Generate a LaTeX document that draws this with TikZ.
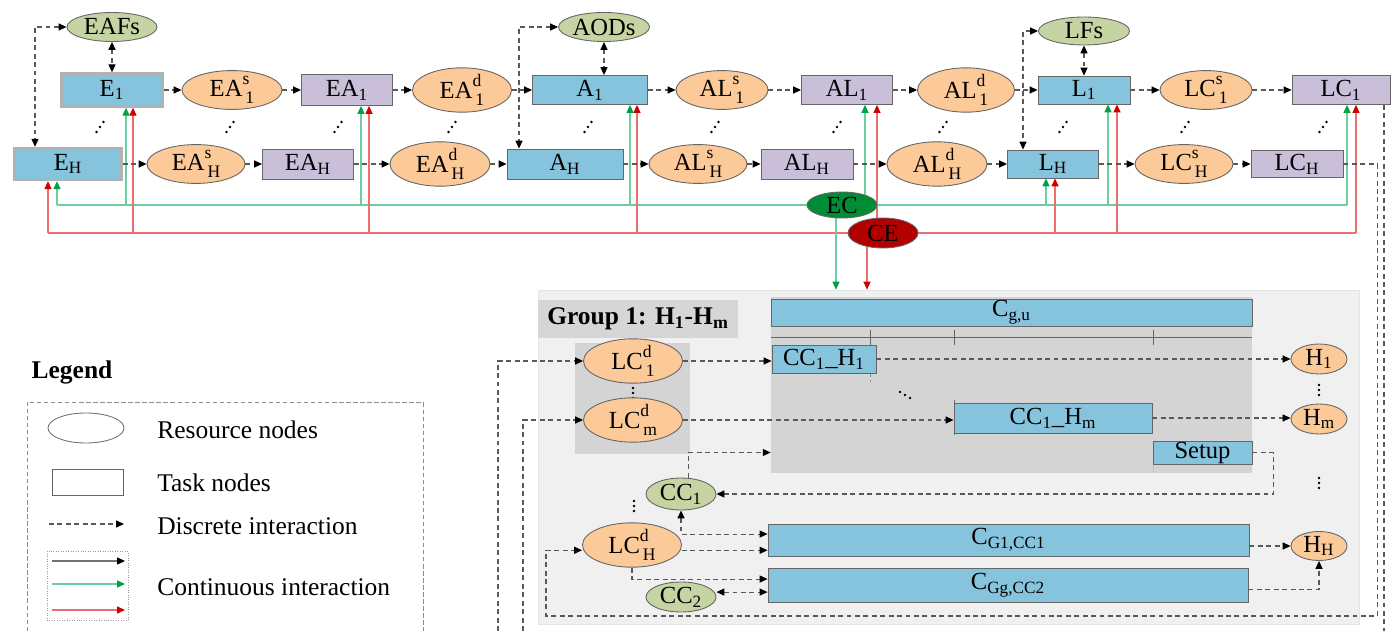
\documentclass[tikz,border=0pt]{standalone}
\usepackage{fontspec}
\setmainfont{Liberation Serif}
\usetikzlibrary{positioning,arrows.meta,shapes.geometric,backgrounds}

\definecolor{taskblue}{RGB}{134,195,221}
\definecolor{taskpurple}{RGB}{201,191,216}
\definecolor{resorange}{RGB}{252,201,152}
\definecolor{resolive}{RGB}{197,212,162}
\definecolor{ecgreen}{RGB}{0,140,52}
\definecolor{cered}{RGB}{178,0,0}
\definecolor{contgreen}{RGB}{110,205,160}
\definecolor{tipgreen}{RGB}{0,160,70}
\definecolor{contred}{RGB}{236,110,110}
\definecolor{tipred}{RGB}{205,0,0}
\definecolor{grpgray}{RGB}{240,240,240}
\definecolor{lblgray}{RGB}{214,214,214}
\definecolor{stackgray}{RGB}{212,212,212}

\newcommand{\supsub}[2]{\rlap{\raisebox{0.5em}{\fontsize{10}{10}\selectfont #1}}\hspace{0.12em}\raisebox{-0.28em}{\fontsize{10}{10}\selectfont #2}}

\tikzset{wh/.style 2 args={minimum width=#1*0.02cm, minimum height=#2*0.02cm}}
\tikzset{tasknode/.style={rectangle, draw=black!60, line width=0.5pt, inner sep=0pt}}
\tikzset{bluetask/.style={tasknode, fill=taskblue}}
\tikzset{purpletask/.style={tasknode, fill=taskpurple}}
\tikzset{firsttask/.style={bluetask, draw=black!30, line width=1.4pt}}
\tikzset{resnode/.style={ellipse, draw=black!60, line width=0.5pt, inner sep=0pt}}
\tikzset{orangeres/.style={resnode, fill=resorange}}
\tikzset{oliveres/.style={resnode, fill=resolive}}
\tikzset{dline/.style={draw=black!65, line width=0.6pt, dash pattern=on 2.8pt off 2pt}}
\tikzset{darr/.style={dline, ->}}
\tikzset{ddarr/.style={dline, <->}}
\tikzset{karr/.style={draw=black!55, line width=0.6pt, ->}}
\tikzset{gline/.style={draw=contgreen, line width=0.6pt}}
\tikzset{garr/.style={gline, -{Triangle[length=4.5pt,width=4pt,color=tipgreen]}}}
\tikzset{rline/.style={draw=contred, line width=0.6pt}}
\tikzset{rarr/.style={rline, -{Triangle[length=4.5pt,width=4pt,color=tipred]}}}
\tikzset{legframe/.style={draw=black!45, line width=0.5pt, dash pattern=on 2.5pt off 1.5pt}}
\tikzset{legtext/.style={anchor=west, inner sep=0pt, font=\fontsize{14.5}{17}\selectfont}}
\tikzset{updots/.pic={\fill (-3.5,5) circle (0.8pt) (0,0) circle (0.8pt) (3.5,-5) circle (0.8pt);}}
\tikzset{vdots/.pic={\fill (0,-5) circle (0.8pt) (0,0) circle (0.8pt) (0,5) circle (0.8pt);}}
\tikzset{dndots/.pic={\fill (-5,-3) circle (0.8pt) (0,0) circle (0.8pt) (5,3) circle (0.8pt);}}

\begin{document}
\begin{tikzpicture}[x=0.02cm, y=-0.02cm, font=\fontsize{14}{16}\selectfont,
    >={Triangle[length=4.5pt,width=4pt,color=black]}]
  \useasboundingbox (0,0) rectangle (1399,631);

  % upper row, first unit
  \node[firsttask, wh={101}{33}] (E1) at (112,90) {E\textsubscript{1}};
  \node[orangeres, wh={100}{32}] (EAs1) at (232,90) {EA\supsub{s}{1}};
  \node[purpletask, wh={91}{31}] (EA1) at (347,90) {EA\textsubscript{1}};
  \node[orangeres, wh={99}{32}] (EAd1) at (462,90) {EA\supsub{d}{1}};
  \node[bluetask, wh={115}{29}] (A1) at (590,90) {A\textsubscript{1}};
  \node[orangeres, wh={92}{31}] (ALs1) at (722,90) {AL\supsub{s}{1}};
  \node[purpletask, wh={91}{29}] (AL1) at (847,90) {AL\textsubscript{1}};
  \node[orangeres, wh={97}{31}] (ALd1) at (966,90) {AL\supsub{d}{1}};
  \node[bluetask, wh={92}{28}] (L1) at (1084,90) {L\textsubscript{1}};
  \node[orangeres, wh={92}{31}] (LCs1) at (1206,90) {LC\supsub{s}{1}};
  \node[purpletask, wh={98}{29}] (LC1) at (1341,90) {LC\textsubscript{1}};
  % lower row, unit H
  \node[firsttask, wh={107}{32}] (EH) at (68,164) {E\textsubscript{H}};
  \node[orangeres, wh={98}{32}] (EAsH) at (196,164) {EA\supsub{s}{H}};
  \node[purpletask, wh={91}{30}] (EAH) at (308,164) {EA\textsubscript{H}};
  \node[orangeres, wh={100}{32}] (EAdH) at (440,164) {EA\supsub{d}{H}};
  \node[bluetask, wh={116}{30}] (AH) at (565,164) {A\textsubscript{H}};
  \node[orangeres, wh={98}{31}] (ALsH) at (698,164) {AL\supsub{s}{H}};
  \node[purpletask, wh={92}{30}] (ALH) at (807,164) {AL\textsubscript{H}};
  \node[orangeres, wh={100}{31}] (ALdH) at (937,164) {AL\supsub{d}{H}};
  \node[bluetask, wh={91}{28}] (LH) at (1053,164) {L\textsubscript{H}};
  \node[orangeres, wh={98}{31}] (LCsH) at (1184,164) {LC\supsub{s}{H}};
  \node[purpletask, wh={92}{27}] (LCH) at (1297,164) {LC\textsubscript{H}};
  % failure / disruption resources
  \node[oliveres, wh={90}{29}] (EAFs) at (112,27) {EAFs};
  \node[oliveres, wh={91}{29}] (AODs) at (604,27) {AODs};
  \node[oliveres, wh={91}{28}] (LFs) at (1084,31) {LFs};
  %
  \foreach \x in {100,230,338,452,588,715,837,943,1063,1185,1323}
    \pic at (\x,127) {updots};
  %
  \foreach \a/\b in {E1/EAs1,EAs1/EA1,EA1/EAd1,EAd1/A1,A1/ALs1,ALs1/AL1,AL1/ALd1,ALd1/L1,L1/LCs1,LCs1/LC1,
      EH/EAsH,EAsH/EAH,EAH/EAdH,EAdH/AH,AH/ALsH,ALsH/ALH,ALH/ALdH,ALdH/LH,LH/LCsH,LCsH/LCH}
    \draw[darr] (\a) -- (\b);
  \draw[ddarr] (EAFs) -- (E1);
  \draw[ddarr] (AODs) -- (AODs |- A1.north);
  \draw[ddarr] (LFs) -- (L1);
  \draw[ddarr] (EAFs.west) -| (EH.north -| 35,0);
  \draw[ddarr] (AODs.west) -| (AH.north -| 519,0);
  \draw[ddarr] (LFs.west) -| (LH.north -| 1023,0);

  % energy / emission nodes
  \node[resnode, fill=ecgreen, wh={70}{26}] (EC) at (842,205) {EC};
  \node[resnode, fill=cered, wh={70}{30}] (CE) at (883,233) {CE};

  % group 1
  \node[rectangle, fill=grpgray, draw=black!10, inner sep=0pt, wh={821}{334}] (grp) at (948.5,457) {};
  \node[rectangle, fill=lblgray, inner sep=0pt, wh={200}{38}, font=\bfseries\fontsize{14.5}{17}\selectfont] (grplbl) at (638,319) {Group 1: H\textsubscript{1}-H\textsubscript{m}};
  \node[rectangle, fill=stackgray, inner sep=0pt, wh={115}{111}] (lcstack) at (632.5,398.5) {};
  \node[rectangle, fill=stackgray, inner sep=0pt, wh={481}{176}] (gantt) at (1011.5,385) {};
  \draw[black!60] (771,337) -- (1252,337);
  \foreach \x in {870,954,1153}
    \draw[black!60] (\x,330) -- (\x,345);
  \draw[black!45, dash pattern=on 2pt off 2pt] (870,345) -- (870,382);
  \draw[black!60] (954,400) -- (954,435);
  \draw[black!25] (1153,441) -- (1153,473);
  \node[bluetask, wh={481}{27}] (Cgu) at (1011.5,312.5) {C\textsubscript{g,u}};
  \node[bluetask, wh={104}{28}] (CCa) at (824,359) {CC\textsubscript{1}\_H\textsubscript{1}};
  \node[bluetask, wh={198}{30}] (CCm) at (1053,418) {CC\textsubscript{1}\_H\textsubscript{m}};
  \node[bluetask, wh={99}{23}] (setup) at (1202.5,452.5) {Setup};
  \pic at (905,395) {dndots};
  \node[orangeres, wh={99}{35}] (LCd1) at (633,361) {LC\supsub{d}{1}};
  \pic at (633,393) {vdots};
  \node[orangeres, wh={99}{38}] (LCdm) at (633,420) {LC\supsub{d}{m}};
  \node[oliveres, wh={70}{32}] (CC1) at (681,494) {CC\textsubscript{1}};
  \pic at (634,506) {vdots};
  \node[orangeres, wh={99}{37}] (LCdH) at (632,545) {LC\supsub{d}{H}};
  \node[oliveres, wh={70}{30}] (CC2) at (681,597) {CC\textsubscript{2}};
  \node[bluetask, wh={481}{32}] (CG1) at (1008.5,540) {C\textsubscript{G1,CC1}};
  \node[bluetask, wh={480}{34}] (CGg) at (1008,585) {C\textsubscript{Gg,CC2}};
  \node[orangeres, wh={56}{30}] (H1) at (1319,359) {H\textsubscript{1}};
  \pic at (1319,390) {vdots};
  \node[orangeres, wh={56}{30}] (Hm) at (1319,419) {H\textsubscript{m}};
  \pic at (1319,483) {vdots};
  \node[orangeres, wh={56}{29}] (HH) at (1319,546) {H\textsubscript{H}};
  %
  \draw[darr] (LCd1.east) -- (LCd1.east -| CCa.west);
  \draw[darr] (CCa.east) -- (H1.west);
  \draw[darr] (LCdm.east) -- (LCdm.east -| CCm.west);
  \draw[darr] (CCm.east) -- (CCm.east -| Hm.west);
  \draw[darr] (setup.east) -- ++(21,0) |- (CC1.east);
  \draw[darr] ([xshift=4pt]CC1.north) |- (setup.west -| gantt.west);
  \draw[ddarr] (CC1.south) |- ([yshift=3.4pt]CG1.west);
  \draw[darr] ([yshift=-3pt]LCdH.east) -- ([yshift=-3pt]LCdH.east -| CG1.west);
  \draw[darr] (LCdH.south) |- ([yshift=3.4pt]CGg.west);
  \draw[ddarr] ([yshift=2.8pt]CC2.east) -- ([yshift=2.8pt]CC2.east -| CGg.west);
  \draw[darr] (HH.west -| CG1.east) -- (HH.west);
  \draw[darr] ([yshift=-2.8pt]CGg.east) -| (HH.south);
  % loops back from the last unit (cut at the page edge)
  \coordinate (cutR) at (1384,631);
  \coordinate (cutA) at (498,631);
  \coordinate (cutB) at (523,631);
  \draw[dline] (LC1.south -| cutR) -- (cutR);
  \draw[darr] (LCH.east) -- ++(34,0) |- (546,616) |- ([yshift=-3pt]LCdH.west);
  \draw[darr] (cutA) |- (LCd1.west);
  \draw[darr] (cutB) |- (LCdm.west);

  % continuous interactions
  \begin{scope}[on background layer]
    \fill[white] (0,0) rectangle (1399,631);
    \draw[gline] (57,205) -- (1347,205);
    \foreach \x/\n in {57/EH,126/E1,361/EA1,630/A1,865/AL1,1046/LH,1108/L1,1347/LC1}
      \draw[garr] (\x,205) -- (\n.south -| \x,0);
    \draw[rline] (48,233) -- (1356,233);
    \foreach \x/\n in {48/EH,133/E1,369/EA1,637/A1,877/AL1,1055/LH,1117/L1,1356/LC1}
      \draw[rarr] (\x,233) -- (\n.south -| \x,0);
    \draw[garr] (EC.center -| 836,0) -- (grp.north -| 836,0);
    \draw[rarr] (CE.center -| 867,0) -- (grp.north -| 867,0);
  \end{scope}

  % legend
  \node[font=\bfseries\fontsize{14.5}{17}\selectfont, inner sep=0pt] (legtitle) at (72,372) {Legend};
  \draw[legframe] (27,631) -- (27,402) -- (423,402) -- (423,631);
  \node[resnode, draw=black!55, fill=white, wh={76}{30}] (legres) at (86,428) {};
  \node[legtext] (legrestxt) at (157,430) {Resource nodes};
  \node[tasknode, fill=white, wh={71}{26}] (legtask) at (88,482) {};
  \node[legtext] (legtasktxt) at (157,483) {Task nodes};
  \coordinate (legda) at (49,524);
  \coordinate (legdb) at (124,524);
  \draw[darr] (legda) -- (legdb);
  \node[legtext] (legdtxt) at (157,526) {Discrete interaction};
  \node[rectangle, draw=black!40, densely dotted, line width=0.4pt, inner sep=0pt, wh={81}{69}] (legcbox) at (87.5,585.5) {};
  \foreach \y/\s in {561/karr,584/garr,610/rarr}
    \draw[\s] (52,\y) -- (125,\y);
  \node[legtext] (legctxt) at (157,587) {Continuous interaction};
\end{tikzpicture}
\end{document}
